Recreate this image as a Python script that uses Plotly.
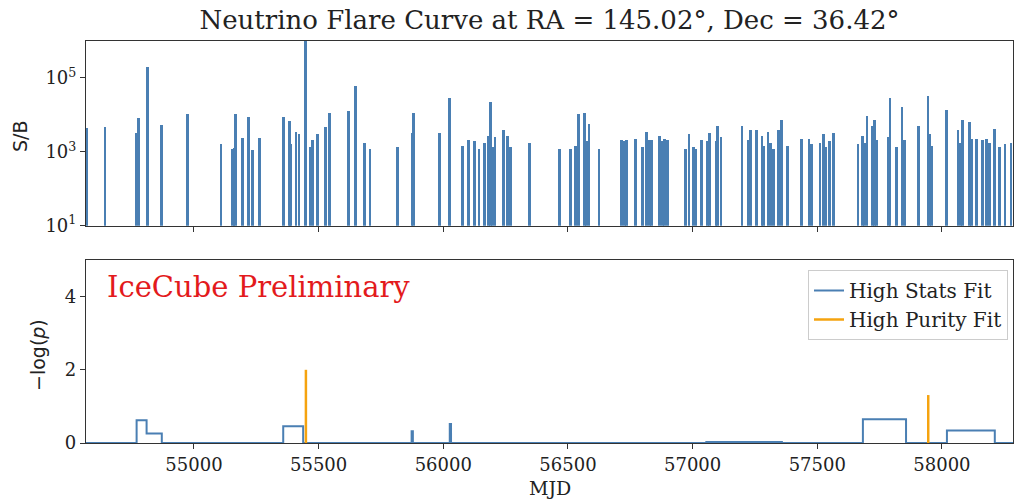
import plotly.graph_objects as go

# ---------------- data ----------------
# Top panel: S/B per event (MJD, log10 S/B)
event_mjd = [54568, 54643, 54768, 54777, 54813, 54871, 54975, 55108, 55154, 55161,
             55167, 55195, 55218, 55235, 55264, 55358, 55382, 55387, 55409, 55421,
             55446, 55465, 55474, 55496, 55528, 55545, 55620, 55649, 55684, 55706,
             55817, 55875, 55881, 55986, 56026, 56078, 56102, 56125, 56143, 56166,
             56182, 56189, 56197, 56207, 56241, 56258, 56270, 56346,
             56466, 56509, 56530, 56542, 56566, 56575, 56584, 56624, 56716, 56727,
             56736, 56771, 56798, 56816, 56826, 56835, 56867, 56880, 56887, 56900,
             56971, 56985, 57005, 57014, 57037, 57060, 57067, 57094, 57101, 57114,
             57198, 57222, 57233, 57257, 57278, 57285, 57302, 57313, 57325, 57345,
             57356, 57381, 57437, 57467, 57477, 57511, 57524, 57535, 57548, 57565,
             57663, 57681, 57689, 57699, 57721, 57730, 57738, 57786, 57792, 57819,
             57840, 57849, 57906, 57944, 57950, 57957, 58018, 58064, 58073, 58082,
             58110, 58120, 58138, 58164, 58178, 58190, 58210, 58230, 58253, 58277]
event_log_sb = [3.64, 3.68, 3.51, 3.92, 5.29, 3.73, 4.03, 3.22, 3.08, 3.10,
                4.03, 3.37, 3.95, 3.05, 3.37, 3.95, 3.84, 3.22, 3.55, 3.49,
                7.00, 3.13, 3.31, 3.48, 3.68, 4.06, 4.11, 4.77, 3.23, 3.08,
                3.13, 3.51, 4.06, 3.51, 4.46, 3.17, 3.32, 3.28, 3.08, 3.23,
                3.44, 4.34, 3.13, 3.40, 3.59, 3.44, 3.12, 3.23,
                3.08, 3.08, 3.16, 4.03, 4.06, 3.28, 3.75, 3.08, 3.32, 3.28,
                3.32, 3.36, 3.13, 3.55, 3.32, 3.32, 3.44, 3.28, 3.36, 3.32,
                3.08, 3.48, 3.12, 3.08, 3.32, 3.28, 3.51, 3.28, 3.70, 3.40,
                3.70, 3.32, 3.59, 3.59, 3.44, 3.16, 3.55, 3.23, 3.08, 3.59,
                3.86, 3.16, 3.36, 3.36, 3.20, 3.23, 3.48, 3.13, 3.28, 3.51,
                3.20, 3.44, 3.24, 3.98, 3.70, 3.86, 3.32, 3.40, 4.46, 3.13,
                4.22, 3.32, 3.70, 4.50, 3.48, 3.16, 4.14, 3.59, 3.24, 3.86,
                3.82, 3.36, 3.36, 3.32, 3.36, 3.24, 3.63, 3.13, 3.20, 3.23]
event_sb = [10 ** v for v in event_log_sb]

# Bottom panel: -log(p) step curve (High Stats) and spikes (High Purity)
stats_mjd = [54500, 54770, 54810, 54871, 55358, 55438, 55873, 55878, 56026, 56031,
             57055, 57358, 57683, 57856, 58020, 58212, 58350]
stats_val = [0, 0.62, 0.26, 0, 0.46, 0, 0.32, 0, 0.52, 0,
             0.03, 0, 0.65, 0, 0.34, 0, 0]
purity_flare_mjd = [55449, 57945]
purity_flare_val = [2.0, 1.31]

x_range = [54567, 58285]
x_tickvals = [55000, 55500, 56000, 56500, 57000, 57500, 58000]
x_ticktext = ["55000", "55500", "56000", "56500", "57000", "57500", "58000"]
sb_tickvals = [10, 1000, 100000]
sb_ticktext = ["10<sup>1</sup>", "10<sup>3</sup>", "10<sup>5</sup>"]
p_tickvals = [0, 2, 4]

title_text = "Neutrino Flare Curve at RA = 145.02°, Dec = 36.42°"

# ---------------- figure ----------------
BLUE = "#4a7fb3"
ORANGE = "#f5a30f"
SERIF = "DejaVu Serif"
SANS = "DejaVu Sans"
AXCOL = "#333333"
TXT = "#222222"

# spikes of the high purity fit as vertical segments
pur_x, pur_y = [], []
for m, v in zip(purity_flare_mjd, purity_flare_val):
    pur_x += [m, m, None]
    pur_y += [0, v, None]

fig = go.Figure()

fig.add_trace(go.Bar(x=event_mjd, y=event_sb, width=11, marker=dict(color=BLUE, line=dict(width=0)),
                     xaxis="x", yaxis="y", showlegend=False))

fig.add_trace(go.Scatter(x=stats_mjd, y=stats_val, mode="lines", line=dict(color=BLUE, width=2, shape="hv"),
                         name="High Stats Fit", xaxis="x2", yaxis="y2", legendrank=1))
fig.add_trace(go.Scatter(x=pur_x, y=pur_y, mode="lines", line=dict(color=ORANGE, width=2.5),
                         name="High Purity Fit", xaxis="x2", yaxis="y2", legendrank=2))

W, H = 1015, 500
ml, mr, mt, mb = 86, 2, 41, 57
ph = H - mt - mb
pw = W - ml - mr
top_dom = [(H - mb - 225.7) / ph, 1.0]
bot_dom = [0.0, (H - mb - 260) / ph]

axis_common = dict(showgrid=False, zeroline=False, showline=True, linecolor=AXCOL, linewidth=1.2,
                   mirror=True, ticks="outside", ticklen=5, tickcolor=AXCOL, automargin=False,
                   tickfont=dict(family=SERIF, size=18, color=TXT))

fig.update_layout(
    width=W, height=H,
    margin=dict(l=ml, r=mr, t=mt, b=mb, autoexpand=False),
    paper_bgcolor="white", plot_bgcolor="white",
    title=dict(text=title_text, x=(ml + pw / 2) / W, xanchor="center", y=1 - 20 / H, yanchor="middle",
               font=dict(family=SERIF, size=26, color=TXT)),
    xaxis=dict(domain=[0, 1], anchor="y", range=x_range, tickvals=x_tickvals, showticklabels=False,
               matches="x2", **axis_common),
    yaxis=dict(domain=top_dom, anchor="x", type="log", range=[1, 6], tickvals=sb_tickvals,
               ticktext=sb_ticktext, **axis_common),
    xaxis2=dict(domain=[0, 1], anchor="y2", range=x_range, tickvals=x_tickvals, ticktext=x_ticktext,
                **axis_common),
    yaxis2=dict(domain=bot_dom, anchor="x2", range=[0, 5], tickvals=p_tickvals, **axis_common),
    bargap=0,
    showlegend=True,
    legend=dict(x=(1008 - ml) / pw, xanchor="right", y=(H - mb - 270) / ph, yanchor="top",
                bgcolor="rgba(255,255,255,0.9)", bordercolor="#cccccc", borderwidth=1,
                font=dict(family=SERIF, size=20, color=TXT), tracegroupgap=0),
)

fig.add_annotation(text="MJD", xref="paper", yref="paper", x=0.5, y=0, yshift=-(488 - (H - mb)),
                   xanchor="center", yanchor="middle", showarrow=False,
                   font=dict(family=SERIF, size=19, color=TXT))
fig.add_annotation(text="S/B", xref="paper", yref="paper", x=0, xshift=-(ml - 20), xanchor="center",
                   y=(H - mb - 136) / ph, yanchor="middle", textangle=-90, showarrow=False,
                   font=dict(family=SANS, size=19, color=TXT))
fig.add_annotation(text="−log(<i>p</i>)", xref="paper", yref="paper", x=0, xshift=-(ml - 38), xanchor="center",
                   y=(H - mb - 355) / ph, yanchor="middle", textangle=-90, showarrow=False,
                   font=dict(family=SANS, size=19, color=TXT))
fig.add_annotation(text="IceCube Preliminary", xref="paper", yref="paper", x=(105 - ml) / pw,
                   xanchor="left", y=(H - mb - 287) / ph, yanchor="middle", showarrow=False,
                   font=dict(family=SERIF, size=29, color="#e31a1c"))

# remove the browser's default page margin so the figure sits at the window's top-left corner
fig.write_html("out.html", config={"displayModeBar": False},
               post_script="document.body.style.margin='0px';")
